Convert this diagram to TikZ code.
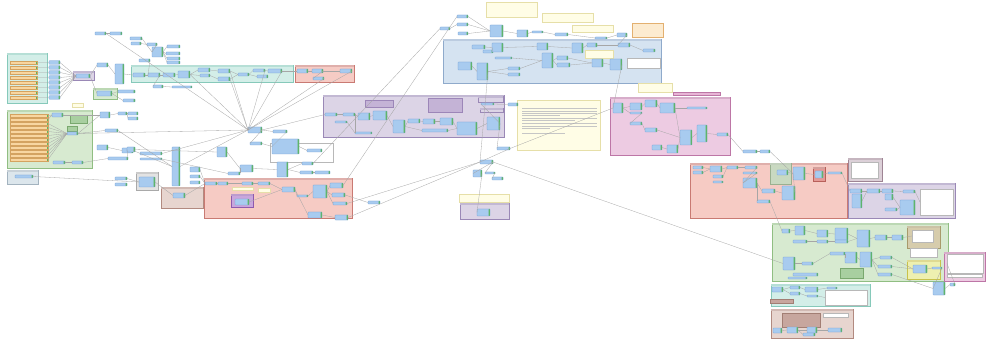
\documentclass[tikz,border=0pt]{standalone}
\usetikzlibrary{positioning}
\definecolor{wirec}{HTML}{A6A6A6}
\definecolor{nodefill}{HTML}{A8CBEF}
\definecolor{nodeline}{HTML}{6B9AD0}
\definecolor{port}{HTML}{5DB85D}
\definecolor{ftfill}{HTML}{F8D6A0}
\definecolor{ftline}{HTML}{D4A360}
\definecolor{notefill}{HTML}{FFFDE6}
\definecolor{noteline}{HTML}{E6DFA8}
\definecolor{orfill}{HTML}{FCEBD0}
\definecolor{orline}{HTML}{E3B070}
\definecolor{tqfill}{HTML}{D3EEE8}
\definecolor{tqline}{HTML}{86C9BA}
\definecolor{rdfill}{HTML}{F6CBC4}
\definecolor{rdline}{HTML}{C97A73}
\definecolor{pufill}{HTML}{DCD4E6}
\definecolor{puline}{HTML}{9A88B6}
\definecolor{blfill}{HTML}{D5E3F1}
\definecolor{blline}{HTML}{8FAACB}
\definecolor{pkfill}{HTML}{EDCBE2}
\definecolor{pkline}{HTML}{BD76A6}
\definecolor{grfill}{HTML}{D7EAD0}
\definecolor{grline}{HTML}{90BE82}
\definecolor{brfill}{HTML}{E7D5CF}
\definecolor{brline}{HTML}{B28A80}
\definecolor{gyfill}{HTML}{DCE6EC}
\definecolor{gyline}{HTML}{A3B3BF}
\definecolor{gcfill}{HTML}{E3E3E3}
\definecolor{gcline}{HTML}{A9A9A9}
\definecolor{mvfill}{HTML}{DCD0D8}
\definecolor{mvline}{HTML}{9E8494}
\definecolor{pdfill}{HTML}{C9A6DC}
\definecolor{pdline}{HTML}{8E5AAE}
\definecolor{gnfill}{HTML}{C9D9C1}
\definecolor{gnline}{HTML}{9AB090}
\definecolor{rifill}{HTML}{E49A96}
\definecolor{riline}{HTML}{B8605A}
\definecolor{khfill}{HTML}{D6CCAC}
\definecolor{khline}{HTML}{A89A6B}
\definecolor{ylfill}{HTML}{EEF0B0}
\definecolor{ylline}{HTML}{C9C24A}
\definecolor{pdark}{HTML}{C4B3D6}
\definecolor{pdarkline}{HTML}{9C86B8}
\definecolor{gdark}{HTML}{A8CFA0}
\definecolor{gdarkline}{HTML}{79A86E}
\definecolor{bdark}{HTML}{C7A69E}
\definecolor{bdarkline}{HTML}{A27E74}
\definecolor{pklab}{HTML}{E8B4D6}
\definecolor{listline}{HTML}{B8B8B8}

\begin{document}
\begin{tikzpicture}[x=1pt,y=-1pt,
    tf/.style={draw=nodeline,fill=nodefill,line width=0.3pt,rounded corners=0.5pt,inner sep=0pt,outer sep=0pt,
      path picture={\fill[port] ([xshift=-1.3pt]path picture bounding box.north east) rectangle (path picture bounding box.south east);}},
    ft/.style={draw=ftline,fill=ftfill,line width=0.3pt,inner sep=0pt,outer sep=0pt,minimum width=27pt,minimum height=2.4pt,
      path picture={\fill[port] ([xshift=-1.3pt]path picture bounding box.north east) rectangle (path picture bounding box.south east);}},
    boxnode/.style={line width=0.3pt,inner sep=0pt,outer sep=0pt},
    grp/.style={line width=0.6pt},
    wire/.style={draw=wirec,line width=0.3pt},
    notetext/.style={draw=gray!45,line width=1pt}]
  \useasboundingbox (0,0) rectangle (986,342);
  \fill[white] (0,0) rectangle (986,342);

  % bookmarks
  \foreach \a/\b/\c/\d/\f/\e in {7/53/47/103/tqfill/tqline,7/110/92/168/grfill/grline,7/170/38/184/gyfill/gyline,
      73/71/94/80/pufill/puline,93/88/117/99/grfill/grline,131/65/293/82/tqfill/tqline,295/65/354/82/rdfill/rdline,
      323/95/504/137/pufill/puline,443/39/661/83/blfill/blline,610/97/730/155/pkfill/pkline,204/178/352/218/rdfill/rdline,
      161/187/203/208/brfill/brline,136/172/158/190/gcfill/gcline,460/203/509/219/pufill/puline,690/163/847/218/rdfill/rdline,
      848/158/882/181/mvfill/mvline,848/183/955/218/pufill/puline,772/223/948/281/grfill/grline,944/252/985/281/pkfill/pkline,
      771/284/870/306/tqfill/tqline,771/309/853/338/brfill/brline,
      231/194/253/207/pdfill/pdline,770/163/791/184/gnfill/gnline,813/167/825/181/rifill/riline,907/226/940/248/khfill/khline,
      907/260/940/279/ylfill/ylline,478/96/503/102/pufill/puline,480/108/503/112/pufill/puline}{
    \draw[grp,fill=\f,draw=\e] (\a,\b) rectangle (\c,\d);
    \fill[\e!60!white] (\a,\b) rectangle (\c,\b+2.4);
  }
  \draw[line width=0.4pt,draw=listline,fill=white] (270,143) rectangle (333,162);

  % annotations
  \foreach \n/\a/\b/\c/\d/\f/\e in {nt1/486/2/537/17/notefill/noteline,nt2/542/13/593/22/notefill/noteline,
      nt3/572/25/613/32/notefill/noteline,nt4/632/23/663/37/orfill/orline,nt5/585/50/613/58/notefill/noteline,
      nt6/627/58/660/68/white/listline,nt7/517/100/600/150/notefill/noteline,nt8/638/83/672/92/notefill/noteline,
      nt9/673/92/720/95/pklab/pkline,nt10/459/194/509/202/notefill/noteline,nt11/232/187/253/190/notefill/noteline,
      nt12/258/188/270/192/notefill/noteline,nt13/72/103/83/107/notefill/noteline,nt14/365/100/393/107/pdark/pdarkline,
      nt15/428/98/462/112/pdark/pdarkline,nt16/70/115/87/123/gdark/gdarkline,nt17/67/126/77/131/gdark/gdarkline,
      nt18/840/268/863/278/gdark/gdarkline,nt19/782/313/820/327/bdark/bdarkline,nt20/823/313/848/317/white/listline,
      nt21/920/189/953/215/white/listline,nt22/851/162/878/178/white/listline,nt23/910/248/937/257/white/listline,
      nt24/912/230/933/242/white/listline,nt25/825/290/867/305/white/listline,nt26/947/254/983/273/white/listline,
      nt27/947/274/982/277/white/listline,nt28/770/299/793/303/bdark/bdarkline}{
    \node[boxnode,draw=\e,fill=\f,minimum width={(\c-\a)*1pt},minimum height={(\d-\b)*1pt}] (\n) at ({(\a+\c)/2},{(\b+\d)/2}) {};
  }
  \foreach \yy/\xe in {109/597,111.3/597,113.6/597,116/560,118.5/597,121/575,124/597,126.3/597,128.6/550,134/565}{
    \draw[notetext] (522,\yy) -- (\xe,\yy);
  }

  % readers
  \foreach \k in {0,...,7}{
    \node[ft] (r\k) at (23.5,{62.5+5*\k}) {};
    \node[tf,minimum width=11pt,minimum height=3.5pt] (q\k) at (54.5,{62.5+5*\k}) {};
  }
  \foreach \k in {0,...,11}{
    \node[ft,minimum width=38pt] (s\k) at (29,{115.5+4*\k}) {};
  }

  % transformers
  \foreach \n/\a/\b/\c/\d in {a1/95/32/106/35,a2/110/32/122/35,a4/130/37/142/40,a5/131/42/141/45,a6/147/43/157/46,
      a7/152/47/163/57,a8/167/45/180/48,a9/166/52/180/55,a10/167/57/180/60,a11/167/61/180/64,a12/139/59/150/62,
      a13/97/63/108/67,a14/115/64/124/84,
      b1/133/73/145/77,b2/148/73/160/77,b3/163/73/175/77,b4/178/71/190/78,b5/198/68/210/72,b6/200/74/210/77,
      b7/218/69/230/73,b8/218/77/230/81,b9/238/73/249/76,b10/253/69/265/72,b11/268/69/282/73,b12/257/75/268/78,
      b13/153/85/163/88,b14/172/86/192/88,
      c1/297/69/308/73,c2/312/69/323/73,c3/313/77/324/80,c4/340/69/352/73,
      d1/76/74/90/78,d3/97/91/112/96,d4/118/90/135/93,d5/123/99/135/102,
      e1/52/113/63/117,e2/67/132/78/135,e3/53/161/65/164,e4/72/161/83/164,e5/100/112/110/118,e6/118/112/127/115,
      e7/128/112/138/115,e8/128/117/138/120,e9/105/129/118/132,e10/97/145/108/150,e11/122/148/133/153,
      e12/108/157/128/160,e13/115/177/127/180,e14/115/183/127/186,f0/15/175/33/178,
      h1/248/127/262/133,h2/273/130/287/133,h3/272/139/299/154,h4/307/149/322/152,h5/217/147/227/157,
      h6/250/142/262/145,h7/277/162/288/177,h8/302/162/313/165,h9/240/165/253/172,h10/172/147/180/186,
      h11/127/147/135/152,h12/140/152/162/155,h13/140/158/162/160,h14/190/167/200/172,h15/190/175/200/178,
      h16/190/181/200/184,h17/228/172/240/175,h18/300/171/313/174,h19/315/171/330/174,h20/139/177/155/187,
      h21/173/193/185/198,
      i1/205/182/217/185,i2/218/182/228/185,i3/242/182/253/185,i4/258/182/270/185,i5/282/187/295/192,
      i6/297/195/308/197,i7/313/185/327/198,i8/330/183/343/188,i9/332/193/345/197,i10/333/202/347/205,
      i11/308/212/322/218,i12/335/215/348/220,i13/235/199/249/205,i14/368/201/380/204,
      j1/325/113/337/116,j2/343/113/355/116,j3/358/113/370/120,j4/373/111/387/120,j5/393/120/405/133,
      j6/408/119/420/123,j7/423/119/435/124,j8/440/118/453/125,j9/457/122/477/135,j10/487/117/500/130,
      j11/355/132/372/134,j12/422/129/448/132,j13/335/121/347/123,j14/481/103/494/105,j15/508/103/518/106,
      j16/497/147/510/150,j17/480/160/493/164,j18/473/170/482/177,j19/485/172/495/174,j20/492/177/503/180,
      j21/477/209/490/216,
      k1/440/27/450/30,k2/457/15/468/18,k3/457/23/468/26,k4/458/32/468/35,k5/490/25/503/37,k6/517/30/528/37,
      k7/532/31/543/33,k8/555/33/568/36,k9/595/37/607/39,k10/617/33/627/37,k11/472/45/485/49,k12/483/50/493/53,
      k13/492/43/503/52,k14/495/57/512/59,k15/458/62/472/70,k16/477/63/488/80,k17/508/67/520/70,k18/508/73/520/76,
      k19/537/43/548/50,k20/542/53/553/68,k21/557/56/568/60,k22/557/63/570/67,k23/572/43/583/53,k24/587/43/597/47,
      k25/592/59/603/67,k26/610/59/622/70,k27/618/43/630/47,k28/643/49/655/52,
      m1/613/103/623/113,m2/630/103/642/110,m3/645/100/657/107,m4/660/103/675/113,m5/687/107/707/109,
      m6/630/112/642/114,m7/630/122/642/125,m8/645/128/657/132,m9/652/145/662/150,m10/667/145/678/153,
      m11/680/130/692/145,m12/697/125/707/142,m13/717/133/728/136,m14/743/150/757/153,m15/760/150/770/153,
      n1/693/166/703/169,n2/693/171/703/174,n3/710/166/722/172,n4/713/175/723/178,n5/713/181/723/183,
      n6/727/166/738/169,n7/745/166/757/169,n8/743/172/757/174,n9/743/178/757/188,n10/762/189/775/193,
      n11/757/200/770/203,n12/777/170/788/175,n13/782/186/795/200,n14/793/167/805/180,n15/815/171/823/178,
      n16/828/172/842/174,
      o1/850/189/862/193,o2/852/194/862/208,o3/867/189/880/193,o4/882/189/893/193,o5/885/194/893/200,
      o6/903/190/915/193,o7/900/200/915/215,o8/885/208/897/211,
      p1/782/229/790/233,p2/795/226/805/235,p3/793/240/807/243,p4/817/230/828/237,p5/817/240/828/243,
      p6/835/228/848/240,p7/835/240/848/243,p8/857/230/870/247,p9/875/235/887/240,p10/892/235/903/240,
      p11/783/257/795/270,p12/802/262/813/265,p13/830/252/845/255,p14/845/252/857/263,p15/860/252/872/267,
      p16/880/256/892/259,p17/878/265/892/268,p18/878/273/892/276,p19/793/273/818/276,p20/788/277/807/279,
      p21/913/265/927/273,p22/932/267/942/269,p23/933/282/945/295,p24/950/283/955/286,
      t1/772/287/783/292,t2/790/286/800/289,t3/790/292/800/295,t4/805/287/818/292,t5/807/295/818/297,
      t6/827/287/837/289,
      u1/773/328/782/333,u2/787/327/798/333,u3/807/327/817/333,u4/828/328/842/332,u5/803/333/815/336}{
    \node[tf,minimum width={(\c-\a)*1pt},minimum height={(\d-\b)*1pt}] (\n) at ({(\a+\c)/2},{(\b+\d)/2}) {};
  }

  % connections
  \foreach \k in {0,...,7}{\draw[wire] (r\k.east) -- (q\k.west) (q\k.east) -- (d1.west);}
  \foreach \k in {0,1}{\draw[wire] (s\k.east) -- (e1.west);}
  \foreach \k in {2,...,11}{\draw[wire] (s\k.east) -- (e2.west);}
  \foreach \u/\v in {d1/a13,a13/a14,a14/b1,d1/d3,d3/d4,d3/d5,e1/e5,e2/e5,e2/e9,e2/h1,e3/e4,e4/e12,e10/e11,e11/h10,
      e5/e6,e6/e7,e6/e8,e12/h11,e13/h20,f0/h20,e9/h10,
      a1/a2,a4/a7,a5/a6,a6/a7,a7/a8,a7/a9,a7/a10,a7/a11,a1/h1,a12/b2,
      b1/b2,b2/b3,b3/b4,b4/b5,b4/b6,b5/b7,b6/b8,b7/b9,b8/b9,b9/b10,b10/b11,b9/b12,b2/b13,b13/b14,
      b11/c1,c1/c2,c2/c3,c2/c4,b4/h1,b7/h1,b10/h1,b11/h1,c4/h1,c3/h1,b8/h1,
      h1/h2,h1/h6,h6/h3,h3/h4,h1/j1,h11/h5,h5/h9,h9/h7,h7/h8,h8/k1,h17/h9,h14/i1,h15/i1,h20/h21,h21/i1,
      h13/h17,h18/h19,h7/h18,h10/h1,h12/h1,h2/h3,
      i1/i2,i2/i3,i3/i4,i4/i5,i5/i6,i6/i7,i7/i8,i7/i9,i7/i10,i5/i11,i11/i12,i8/k2,i10/j17,i12/j17,i13/i5,i9/i14,
      j1/j2,j2/j3,j3/j4,j4/j5,j5/j6,j6/j7,j7/j8,j8/j9,j9/j10,j2/j11,j13/j11,j5/j12,j12/j9,j10/j14,j14/j15,
      j10/j16,j16/j17,j17/j18,j17/j19,j19/j20,j17/p11,j16/m1,j18/j21,
      k1/k3,k2/k5,k3/k5,k4/k5,k5/k6,k6/k7,k7/k8,k8/k9,k9/k10,k11/k13,k12/k13,k13/k19,k14/k20,k15/k16,k16/k17,
      k16/k18,k17/k20,k19/k23,k20/k21,k20/k22,k21/k25,k22/k25,k23/k24,k24/k27,k25/k26,k27/k28,k10/k27,k26/m1,
      k16/j17,
      m1/m2,m1/m6,m2/m3,m3/m4,m4/m5,m6/m7,m7/m8,m8/m11,m4/m11,m9/m10,m10/m11,m11/m12,m12/m13,m13/m14,m14/m15,
      m15/n14,
      n1/n3,n2/n3,n3/n6,n4/n6,n6/n7,n7/n9,n8/n9,n9/n10,n9/n11,n10/n13,n12/n14,n13/n14,n14/n15,n15/n16,n16/o1,
      n11/p1,
      o1/o3,o2/o3,o3/o4,o4/o6,o5/o7,o8/o7,o6/nt21,
      p1/p2,p2/p4,p3/p5,p4/p6,p5/p7,p6/p8,p7/p8,p8/p9,p9/p10,p10/nt24,p11/p12,p12/p13,p13/p14,p14/p15,p15/p16,
      p15/p17,p15/p18,p16/p21,p17/p21,p21/p22,p22/p23,p23/p24,p18/p23,p24/nt26,
      t1/t2,t1/t3,t2/t4,t3/t5,t4/t6,t5/nt25,
      u1/u2,u2/u3,u3/u4,u2/u5}{
    \draw[wire] (\u.east) -- (\v.west);
  }
\end{tikzpicture}
\end{document}
